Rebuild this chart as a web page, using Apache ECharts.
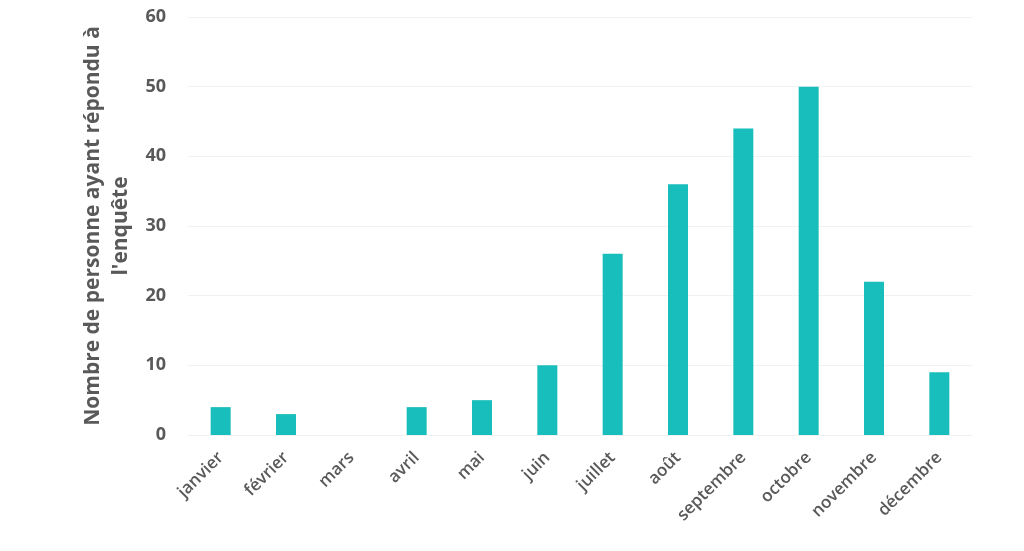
<!DOCTYPE html>
<html><head><meta charset="utf-8">
<script src="https://cdn.jsdelivr.net/npm/echarts@6/dist/echarts.min.js"></script>
<style>html,body{margin:0;padding:0;background:#fff}#c{width:1024px;height:551px}</style>
</head><body><div id="c"></div>
<script>
const categories = ['janvier','février','mars','avril','mai','juin','juillet','août','septembre','octobre','novembre','décembre'];
const values = [4,3,0,4,5,10,26,36,44,50,22,9];
const yTitle = "Nombre de personne ayant répondu à\nl'enquête";

const chart = echarts.init(document.getElementById('c'));
chart.setOption({
  animation:false,
  grid:{left:188,right:52,top:17,bottom:116},
  xAxis:{type:'category',data:categories,
    axisLine:{show:true,lineStyle:{color:'#f0f0f0'}},axisTick:{show:false},
    axisLabel:{rotate:45,interval:0,margin:20,color:'#595959',fontSize:17,fontFamily:'Open Sans',fontWeight:600}},
  yAxis:{type:'value',min:0,max:60,interval:10,
    name:yTitle,nameLocation:'middle',nameGap:44,nameRotate:90,
    nameTextStyle:{color:'#595959',fontSize:21,fontFamily:'Open Sans',fontWeight:'bold',lineHeight:28},
    axisLine:{show:false},axisTick:{show:false},
    splitLine:{lineStyle:{color:'#f2f2f2'}},
    axisLabel:{margin:22,color:'#595959',fontSize:18,fontFamily:'Open Sans',fontWeight:'bold'}},
  series:[{type:'bar',data:values,barWidth:20,itemStyle:{color:'#17BEBB'}}]
});
</script></body></html>
